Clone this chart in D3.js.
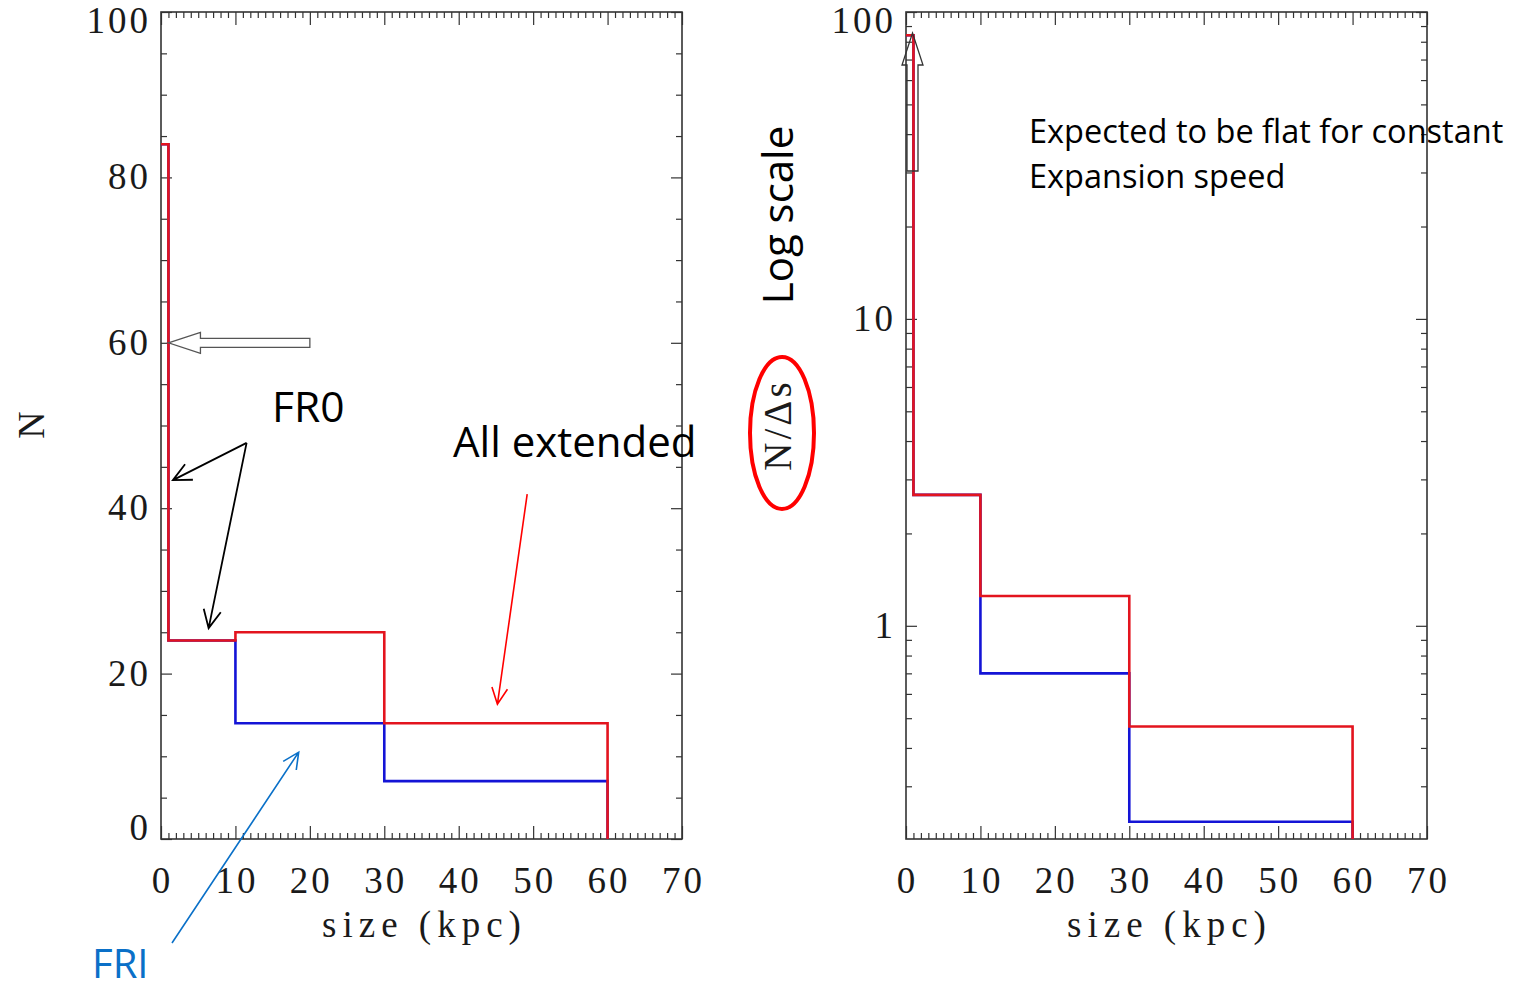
<!DOCTYPE html>
<html>
<head>
<meta charset="utf-8">
<script src="https://cdn.jsdelivr.net/npm/d3@7"></script>
<style>
  html, body { margin: 0; padding: 0; background: #fff; }
  svg { display: block; }
  .tl { font-family: "Liberation Serif", "DejaVu Serif", serif; fill: #1a1a1a; }
  .ann { font-family: "Open Sans", Lato, sans-serif; }
</style>
</head>
<body>
<svg id="chart" width="1514" height="989"></svg>
<script>
// ---------------- data ----------------
const binEdges = [0, 1, 10, 30, 60];                 // size bins (kpc)
const allExtendedN = [84, 24, 25, 14];               // red, left panel (N)
const friN = [84, 24, 14, 7];                        // blue, left panel (N)
const allExtendedDensity = [84, 2.67, 1.25, 0.47];   // red, right panel (N/Δs)
const friDensity = [84, 2.67, 0.70, 0.23];           // blue, right panel (N/Δs)
const xTickLabels = ["0", "10", "20", "30", "40", "50", "60", "70"];
const yTickLabelsLinear = ["0", "20", "40", "60", "80", "100"];
const yTickLabelsLog = ["1", "10", "100"];

const RED = "#e3141e", BLUE = "#1414d6", AXIS = "#333";

const svg = d3.select("#chart");

const plotTop = 12, plotBottom = 839;
const leftP = { x0: 161, x1: 682 };
const rightP = { x0: 906, x1: 1427 };

const xL = d3.scaleLinear().domain([0, 70]).range([leftP.x0, leftP.x1]);
const yL = d3.scaleLinear().domain([0, 100]).range([plotBottom, plotTop]);
const xR = d3.scaleLinear().domain([0, 70]).range([rightP.x0, rightP.x1]);
const yR = d3.scaleLog().domain([0.202, 100]).range([plotBottom, plotTop]);

function frame(x, y) {
  const g = svg.append("g");
  const [c, d] = y.range();
  const minor = d3.range(0, 71, 1).filter(v => v % 10 !== 0);
  const major = d3.range(0, 71, 10);
  g.append("g").attr("transform", `translate(0,${c})`)
    .call(d3.axisBottom(x).tickValues(minor).tickSize(-6).tickFormat(""));
  g.append("g").attr("transform", `translate(0,${c})`)
    .call(d3.axisBottom(x).tickValues(major).tickSize(-13).tickFormat(""));
  g.append("g").attr("transform", `translate(0,${d})`)
    .call(d3.axisTop(x).tickValues(minor).tickSize(-6).tickFormat(""));
  g.append("g").attr("transform", `translate(0,${d})`)
    .call(d3.axisTop(x).tickValues(major).tickSize(-13).tickFormat(""));
  g.selectAll(".domain").remove();
  g.selectAll(".tick line").attr("stroke", AXIS).attr("stroke-width", 1.2);
  return g;
}

function yTicks(g, x, y, minorVals, majorVals) {
  const [a, b] = x.range();
  const add = (axisFn, pos, vals, size) => {
    g.append("g").attr("transform", `translate(${pos},0)`)
      .call(axisFn(y).tickValues(vals).tickSize(size).tickFormat(""));
  };
  add(d3.axisLeft, a, minorVals, -6);
  add(d3.axisLeft, a, majorVals, -11);
  add(d3.axisRight, b, minorVals, -6);
  add(d3.axisRight, b, majorVals, -11);
  g.selectAll(".domain").remove();
  g.selectAll(".tick line").attr("stroke", AXIS).attr("stroke-width", 1.2);
}

function border(x, y) {
  const [a, b] = x.range();
  const [c, d] = y.range();
  svg.append("rect").attr("x", a).attr("y", d).attr("width", b - a).attr("height", c - d)
    .attr("fill", "none").attr("stroke", AXIS).attr("stroke-width", 1.6);
}

function stepPath(x, y, edges, vals, floor) {
  const p = d3.path();
  p.moveTo(x(edges[0]), y(vals[0]));
  for (let i = 0; i < vals.length; i++) {
    p.lineTo(x(edges[i + 1]), y(vals[i]));
    const nextV = i + 1 < vals.length ? vals[i + 1] : floor;
    p.lineTo(x(edges[i + 1]), y(nextV));
  }
  return p.toString();
}

function tickLabelsX(x) {
  svg.append("g").selectAll("text").data(xTickLabels).join("text")
    .attr("class", "tl")
    .attr("x", d => x(+d) + 1.5)
    .attr("y", 893)
    .attr("text-anchor", "middle")
    .attr("font-size", 37)
    .attr("letter-spacing", 3)
    .text(d => d);
  svg.append("text").attr("class", "tl")
    .attr("x", (x.range()[0] + x.range()[1]) / 2 + 3)
    .attr("y", 937)
    .attr("text-anchor", "middle")
    .attr("font-size", 37)
    .attr("letter-spacing", 6)
    .text("size (kpc)");
}

function tickLabelsY(y, labels, xRight) {
  svg.append("g").selectAll("text").data(labels).join("text")
    .attr("class", "tl")
    .attr("x", xRight)
    .attr("y", d => Math.min(Math.max(y(+d), plotTop + 9), plotBottom - 11) + 12)
    .attr("text-anchor", "end")
    .attr("font-size", 37)
    .attr("letter-spacing", 3)
    .text(d => d);
}

// ---------------- left panel ----------------
const gL = frame(xL, yL);
yTicks(gL, xL, yL, d3.range(0, 101, 5).filter(v => v % 20 !== 0), d3.range(0, 101, 20));
border(xL, yL);
svg.append("path").attr("d", stepPath(xL, yL, binEdges, friN, 0))
  .attr("fill", "none").attr("stroke", BLUE).attr("stroke-width", 2.6);
svg.append("path").attr("d", stepPath(xL, yL, binEdges, allExtendedN, 0))
  .attr("fill", "none").attr("stroke", RED).attr("stroke-width", 2.6);
tickLabelsX(xL);
tickLabelsY(yL, yTickLabelsLinear, 151);
svg.append("text").attr("class", "tl")
  .attr("transform", "translate(44,425) rotate(-90)")
  .attr("text-anchor", "middle").attr("font-size", 38).text("N");

// ---------------- right panel ----------------
const gR = frame(xR, yR);
const logMinor = [];
[0.1, 1, 10].forEach(dec => { for (let k = 2; k <= 9; k++) { const v = dec * k; if (v >= 0.202 && v <= 100) logMinor.push(v); } });
yTicks(gR, xR, yR, logMinor, [1, 10, 100]);
border(xR, yR);
svg.append("path").attr("d", stepPath(xR, yR, binEdges, friDensity, 0.202))
  .attr("fill", "none").attr("stroke", BLUE).attr("stroke-width", 2.6);
svg.append("path").attr("d", stepPath(xR, yR, binEdges, allExtendedDensity, 0.202))
  .attr("fill", "none").attr("stroke", RED).attr("stroke-width", 2.6);
tickLabelsX(xR);
tickLabelsY(yR, yTickLabelsLog, 896);
svg.append("text").attr("class", "tl")
  .attr("transform", "translate(791,425) rotate(-90)")
  .attr("text-anchor", "middle").attr("font-size", 39).attr("letter-spacing", 3).text("N/Δs");
svg.append("ellipse").attr("cx", 782).attr("cy", 433).attr("rx", 32).attr("ry", 76)
  .attr("fill", "none").attr("stroke", "#ff0000").attr("stroke-width", 4);

// ---------------- annotations ----------------
function arrowHead(x1, y1, x2, y2, len, ang) {
  const t = Math.atan2(y2 - y1, x2 - x1);
  const a1 = t + Math.PI - ang, a2 = t + Math.PI + ang;
  return `M${x2 + len * Math.cos(a1)},${y2 + len * Math.sin(a1)}L${x2},${y2}L${x2 + len * Math.cos(a2)},${y2 + len * Math.sin(a2)}`;
}
function arrow(x1, y1, x2, y2, color, w, len) {
  svg.append("path").attr("d", `M${x1},${y1}L${x2},${y2}` + arrowHead(x1, y1, x2, y2, len, 0.45))
    .attr("fill", "none").attr("stroke", color).attr("stroke-width", w)
    .attr("stroke-linejoin", "miter");
}
arrow(xL(11.5), yL(47.9), xL(1.6), yL(43.4), "#000", 1.8, 20);
arrow(xL(11.5), yL(47.9), xL(6.4), yL(25.5), "#000", 1.8, 20);
arrow(xL(49.2), yL(41.7), xL(45.2), yL(16.3), "#f00", 1.6, 18);
arrow(172, 943, xL(18.5), yL(10.5), "#0a70c8", 1.6, 18);

{
  const tx = xL(1), ty = yL(60), hb = xL(5.3), ex = xL(20);
  svg.append("path")
    .attr("d", `M${tx},${ty}L${hb},${ty - 10.5}L${hb},${ty - 4.5}L${ex},${ty - 4.5}L${ex},${ty + 4.5}L${hb},${ty + 4.5}L${hb},${ty + 10.5}Z`)
    .attr("fill", "#fff").attr("stroke", "#555").attr("stroke-width", 1.3);
}
{
  const tx = 912.5, ty = 33, hb = 65, ey = 171;
  svg.append("path")
    .attr("d", `M${tx},${ty}L${tx + 10.5},${hb}L${tx + 5.5},${hb}L${tx + 5.5},${ey}L${tx - 5.5},${ey}L${tx - 5.5},${hb}L${tx - 10.5},${hb}Z`)
    .attr("fill", "none").attr("stroke", "#333").attr("stroke-width", 1.3);
}

svg.append("text").attr("class", "ann").attr("x", 272).attr("y", 422)
  .attr("font-size", 42.5).attr("fill", "#000").text("FR0");
svg.append("text").attr("class", "ann").attr("x", 453).attr("y", 457)
  .attr("font-size", 42).attr("fill", "#000").text("All extended");
svg.append("text").attr("class", "ann").attr("x", 92).attr("y", 978)
  .attr("font-size", 40).attr("fill", "#0a70c8").text("FRI");
svg.append("text").attr("class", "ann").attr("x", 1029).attr("y", 143)
  .attr("font-size", 32.5).attr("fill", "#000").text("Expected to be flat for constant");
svg.append("text").attr("class", "ann").attr("x", 1029).attr("y", 188)
  .attr("font-size", 32.5).attr("fill", "#000").text("Expansion speed");
svg.append("text").attr("class", "ann")
  .attr("transform", "translate(793,215) rotate(-90)")
  .attr("text-anchor", "middle").attr("font-size", 42).attr("fill", "#000").text("Log scale");
</script>
</body>
</html>
